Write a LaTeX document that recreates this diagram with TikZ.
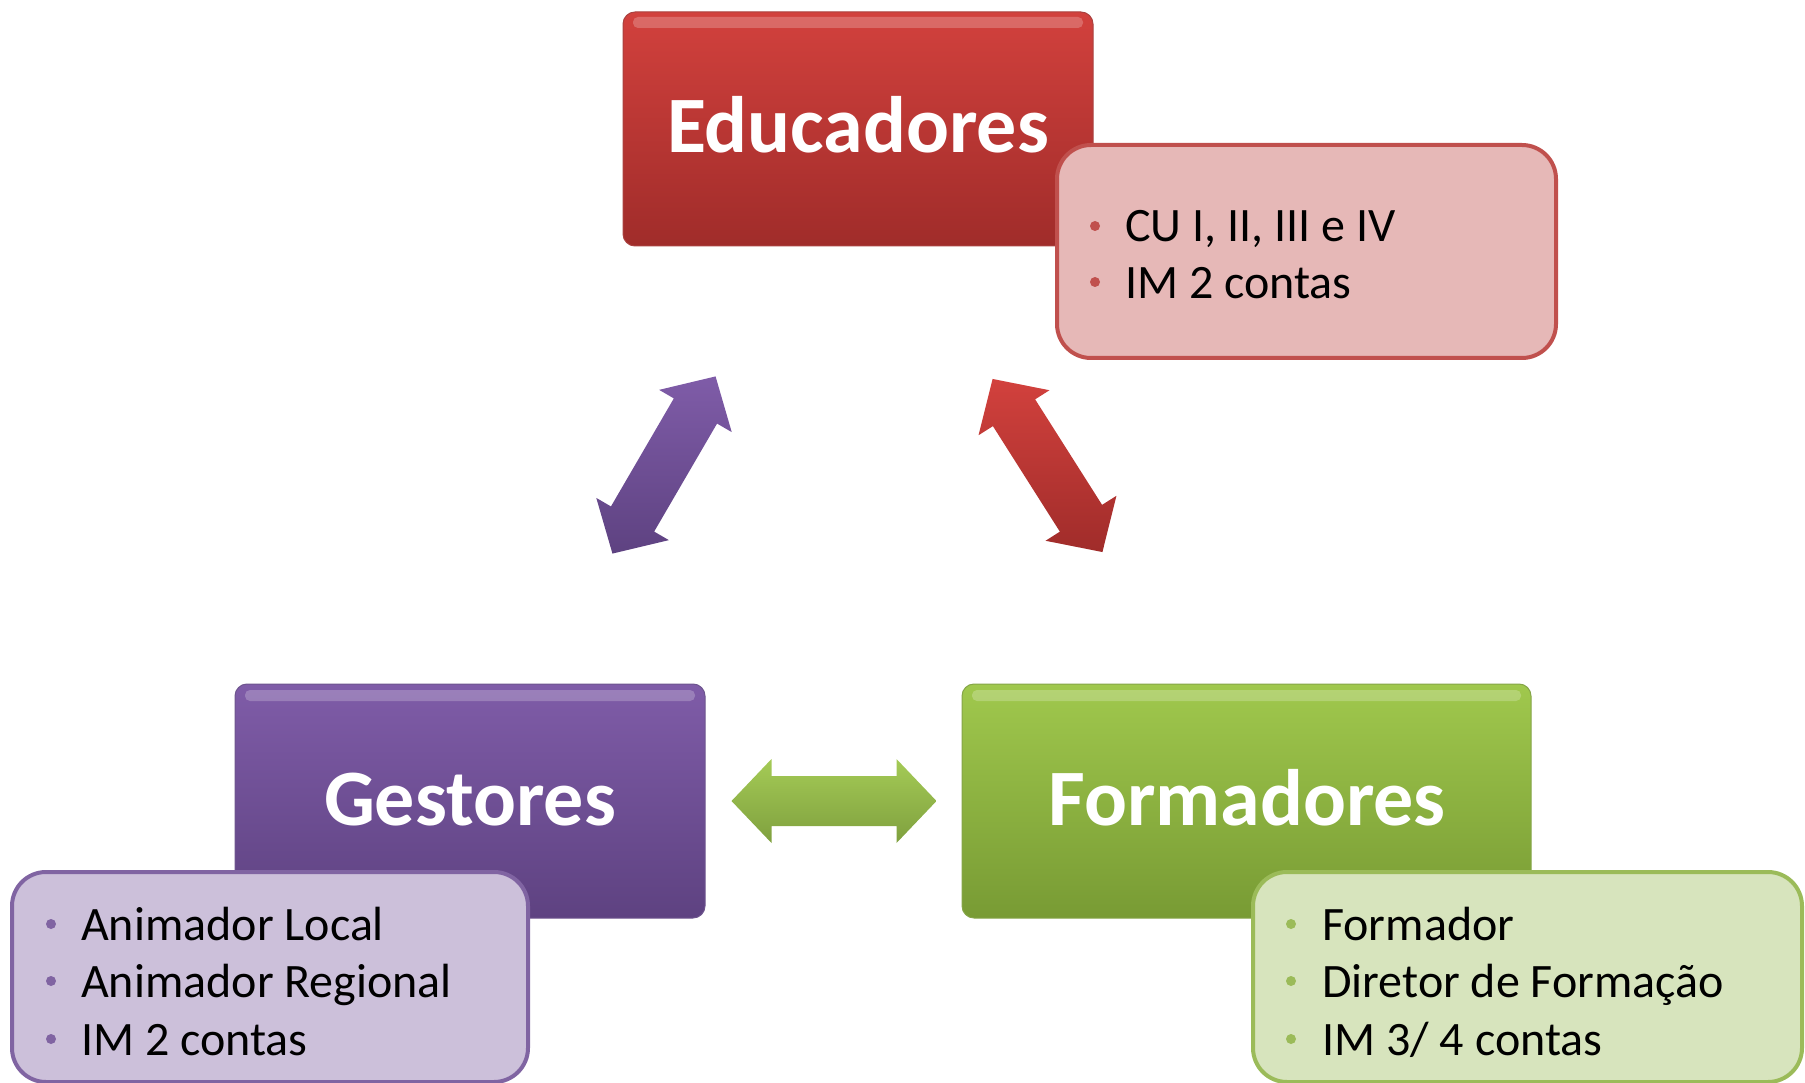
\documentclass[tikz,border=0pt]{standalone}
\usepackage{fontspec}
\setmainfont{Carlito}
\definecolor{redtop}{HTML}{D2413D}
\definecolor{redbot}{HTML}{A02C2A}
\definecolor{purtop}{HTML}{7F5CA8}
\definecolor{purbot}{HTML}{5E4281}
\definecolor{grntop}{HTML}{A0C84D}
\definecolor{grnbot}{HTML}{789B34}
\definecolor{redlight}{HTML}{E6B8B7}
\definecolor{redline}{HTML}{C0504D}
\definecolor{purlight}{HTML}{CCC0DA}
\definecolor{purline}{HTML}{8064A2}
\definecolor{grnlight}{HTML}{D7E4BD}
\definecolor{grnline}{HTML}{9BBB59}
\tikzset{
  mainbox/.style={rounded corners=12, minimum width=470, minimum height=234, inner sep=0, line width=1},
  title/.style={anchor=base, inner sep=0, text=white, font=\fontsize{80}{96}\selectfont\bfseries},
  subbox/.style={rounded corners=34, line width=4, inner sep=0, minimum height=210},
  item/.style={anchor=base west, inner sep=0, font=\fontsize{48}{58}\selectfont},
  gloss/.style={fill=white, fill opacity=0.22, rounded corners=5},
  pics/dblarrow/.style 2 args={code={
    \path[top color=#1, bottom color=#2]
      (-102.5,0) -- (-62.5,42) -- (-62.5,25) -- (62.5,25) -- (62.5,42) -- (102.5,0)
      -- (62.5,-42) -- (62.5,-25) -- (-62.5,-25) -- (-62.5,-42) -- cycle;
  }}
}
\begin{document}
\begin{tikzpicture}[x=1pt,y=-1pt]
\useasboundingbox (0,0) rectangle (1805,1083);

% ---- Educadores
\node[mainbox, top color=redtop, bottom color=redbot, draw=redbot!90!white] (edu) at (858,129) {};
\path[gloss] (633,17) rectangle (1083,28);
\node[title] (edut) at (858,153) {Educadores};
\node[subbox, fill=redlight, draw=redline, minimum width=499, minimum height=213] (edus) at (1306.5,251.5) {};
\fill[redline] (1095,226) circle (5);
\fill[redline] (1095,282) circle (5);
\node[item] (edu1) at (1125,242) {CU I, II, III e IV};
\node[item] (edu2) at (1125,299) {IM 2 contas};

% ---- Gestores
\node[mainbox, top color=purtop, bottom color=purbot, draw=purbot!90!white] (ges) at (470,801) {};
\path[gloss] (245,690) rectangle (695,701);
\node[title] (gest) at (470,825) {Gestores};
\node[subbox, fill=purlight, draw=purline, minimum width=516] (gess) at (270,977) {};
\fill[purline] (51,924) circle (5);
\fill[purline] (51,981) circle (5);
\fill[purline] (51,1039) circle (5);
\node[item] (ges1) at (81,940) {Animador Local};
\node[item] (ges2) at (81,997) {Animador Regional};
\node[item] (ges3) at (81,1055) {IM 2 contas};

% ---- Formadores
\node[mainbox, top color=grntop, bottom color=grnbot, draw=grnbot!90!white, minimum width=569] (for) at (1246.5,801) {};
\path[gloss] (972,690) rectangle (1521,701);
\node[title] (fort) at (1247,825) {Formadores};
\node[subbox, fill=grnlight, draw=grnline, minimum width=549] (fors) at (1527.5,977) {};
\fill[grnline] (1291,924) circle (5);
\fill[grnline] (1291,981) circle (5);
\fill[grnline] (1291,1039) circle (5);
\node[item] (for1) at (1322,940) {Formador};
\node[item] (for2) at (1322,997) {Diretor de Formação};
\node[item] (for3) at (1322,1055) {IM 3/ 4 contas};

% ---- arrows
\pic[rotate=59.8] (parr) at (664,465) {dblarrow={purtop}{purbot}};
\pic[rotate=-57.6] (rarr) at (1047.5,465.5) {dblarrow={redtop}{redbot}};
\pic (garr) at (834,801) {dblarrow={grntop!95!white}{grnbot!95!white}};
\end{tikzpicture}
\end{document}
